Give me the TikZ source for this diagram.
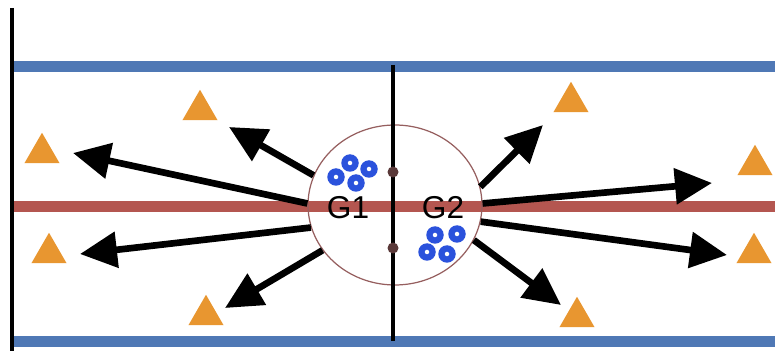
\documentclass[tikz,border=0pt]{standalone}
\usepackage{fontspec}
\setsansfont{Liberation Sans}
\usetikzlibrary{shapes,arrows.meta}
\definecolor{laneblue}{RGB}{79,120,181}
\definecolor{midred}{RGB}{180,86,80}
\definecolor{coneorange}{RGB}{232,150,48}
\definecolor{puckblue}{RGB}{43,82,220}
\definecolor{ringred}{RGB}{150,95,95}

\begin{document}
\begin{tikzpicture}[x=0.02cm,y=-0.02cm,
  cone/.style={shape=regular polygon,regular polygon sides=3,fill=coneorange,inner sep=0pt,minimum size=0.81cm},
  puck/.style={shape=circle,fill=puckblue,inner sep=0pt,minimum size=0.35cm,
    path picture={\fill[white] (path picture bounding box.center) circle (0.045cm);}},
  knot/.style={shape=circle,fill=ringred!60!black,inner sep=0pt,minimum size=0.22cm},
  push/.style={-{Triangle[length=0.74cm,width=0.7cm]},line width=3.8pt}]
\useasboundingbox (0,0) rectangle (775,351);
% field lines
\draw[laneblue,line width=0.22cm] (12,67) -- (775,67);
\draw[laneblue,line width=0.22cm] (12,342) -- (775,342);
\draw[midred,line width=0.22cm] (12,207) -- (775,207);
\draw[line width=2.8pt] (12,8) -- (12,351);
\node(zone) at (395,205) [shape=ellipse,draw=ringred,line width=0.7pt,minimum width=3.48cm,minimum height=3.2cm]{};
\draw[line width=2.8pt] (393,65) -- (393,341);
\node(k1) at (393,172) [knot]{};
\node(k2) at (393,248) [knot]{};
% groups
\node(g1) at (348,208) [font=\sffamily\fontsize{18}{18}\selectfont]{G1};
\node(g2) at (443,208) [font=\sffamily\fontsize{18}{18}\selectfont]{G2};
\node(p1) at (350,163) [puck]{};
\node(p2) at (369,169) [puck]{};
\node(p3) at (336,177) [puck]{};
\node(p4) at (356,183) [puck]{};
\node(p5) at (435,235) [puck]{};
\node(p6) at (457,234) [puck]{};
\node(p7) at (427,252) [puck]{};
\node(p8) at (447,254) [puck]{};
% cones
\node(c1) at (42,153) [cone]{};
\node(c2) at (200,110) [cone]{};
\node(c3) at (49,253) [cone]{};
\node(c4) at (206,315) [cone]{};
\node(c5) at (571,102) [cone]{};
\node(c6) at (755,165) [cone]{};
\node(c7) at (754,253) [cone]{};
\node(c8) at (577,317) [cone]{};
\coordinate(t1) at (229,127);
\coordinate(t2) at (73,153);
\coordinate(t3) at (80,254);
\coordinate(t4) at (225,308);
\coordinate(t5) at (543,125);
\coordinate(t6) at (712,183);
\coordinate(t7) at (727,255);
\coordinate(t8) at (561,305);
\path [push]
(zone.160) edge (t1)
(zone.179) edge (t2)
(zone.195) edge (t3)
(zone.212) edge (t4)
(zone.12) edge (t5)
(zone.1) edge (t6)
(zone.349) edge (t7)
(zone.336) edge (t8);
\end{tikzpicture}
\end{document}
